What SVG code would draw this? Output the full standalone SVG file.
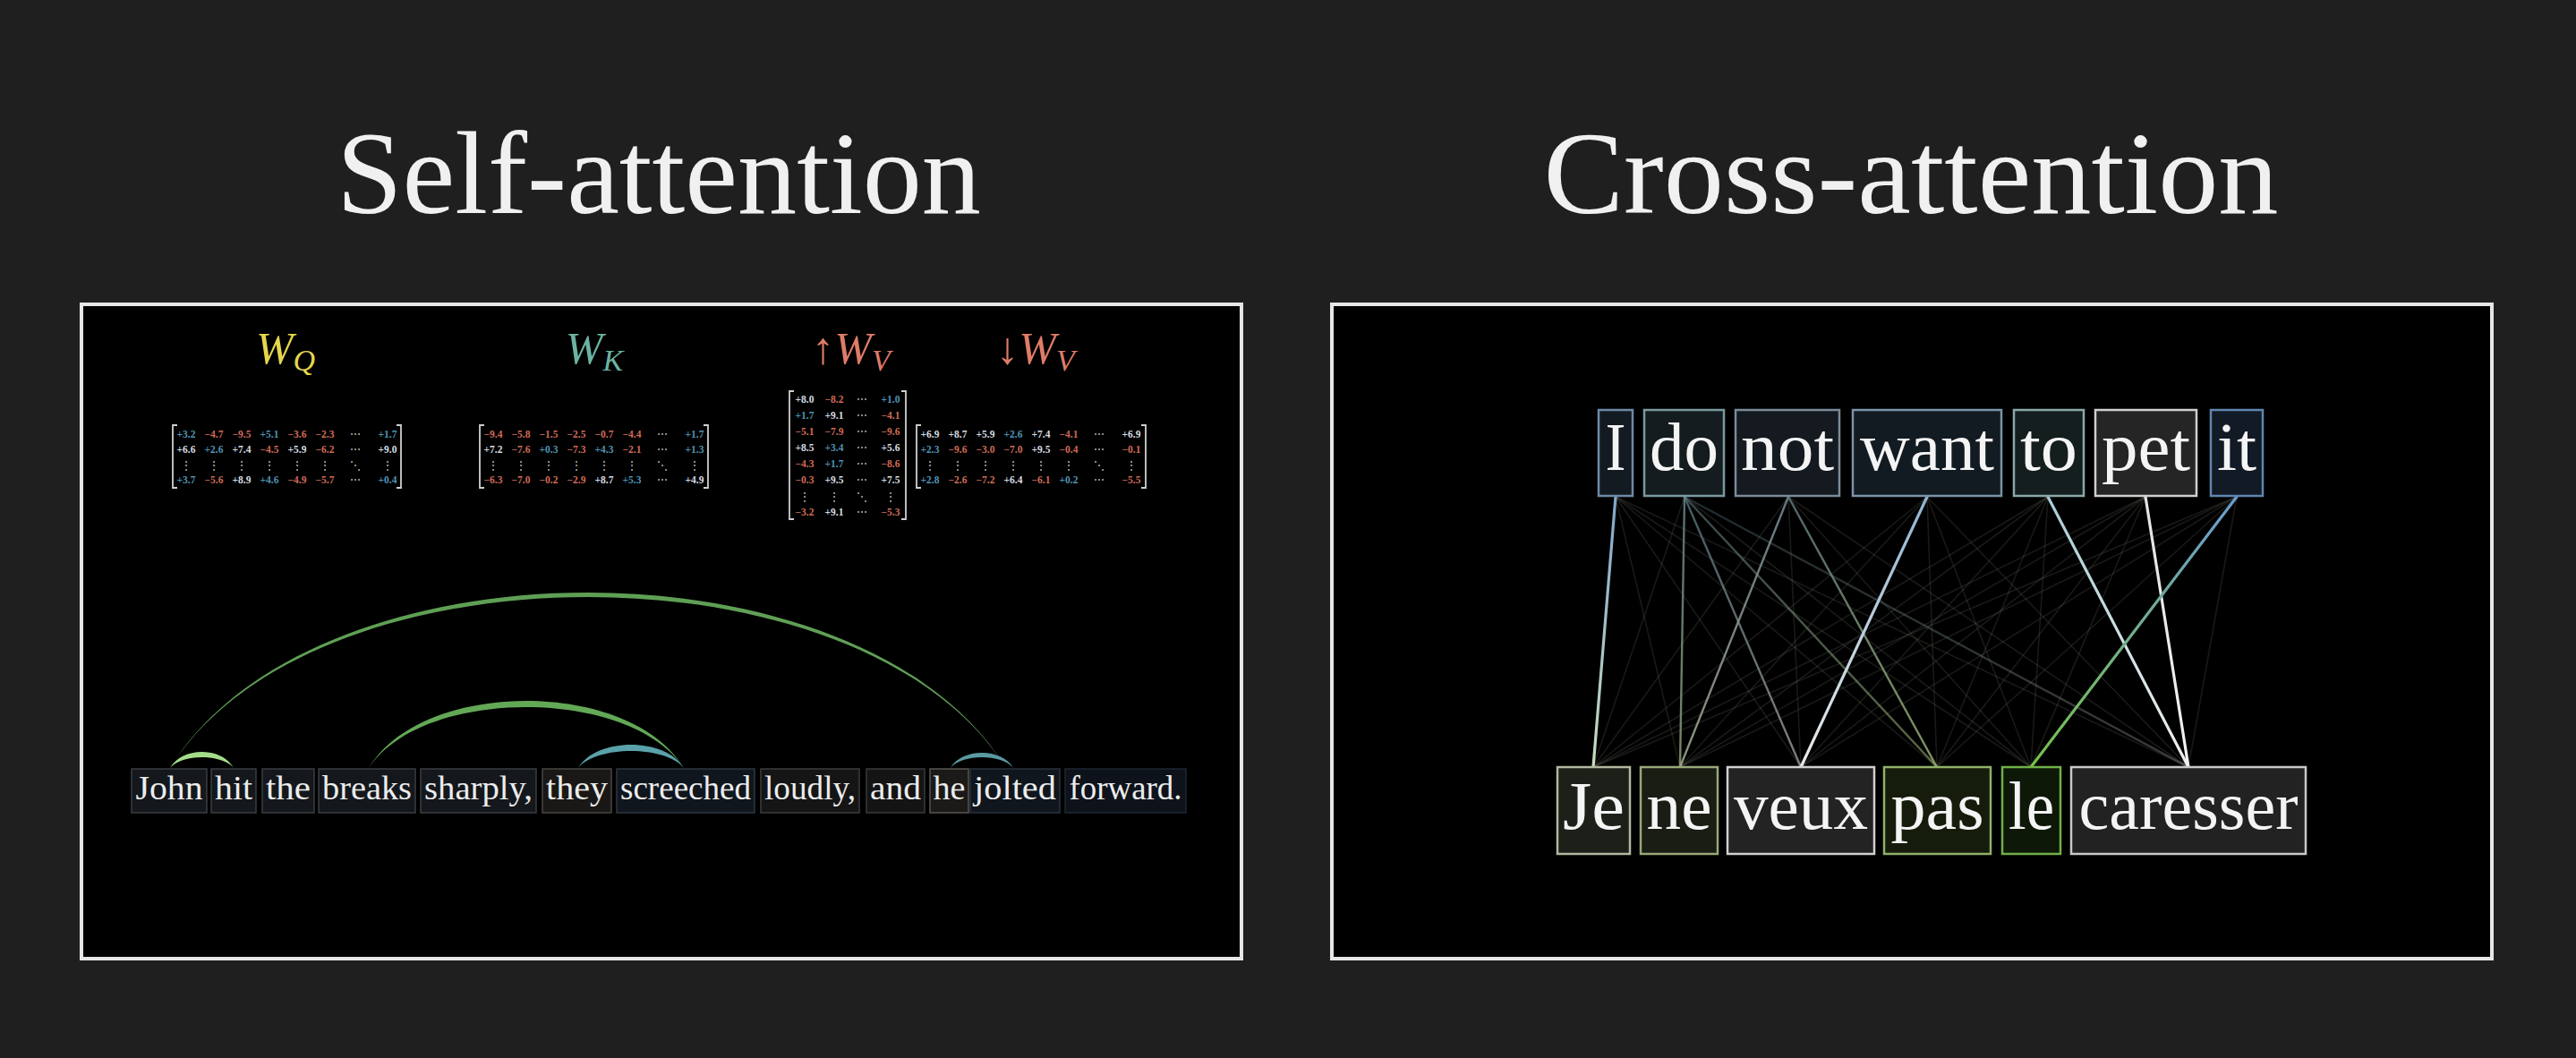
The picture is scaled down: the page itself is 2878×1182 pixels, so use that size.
<svg xmlns="http://www.w3.org/2000/svg" width="2878" height="1182" viewBox="0 0 2878 1182">
<defs>
<style>
.title{font-family:"Liberation Serif","DejaVu Serif",serif;font-size:132px;fill:#f0f0f0;text-anchor:middle}
.panel{fill:#000;stroke:#e6e6e6;stroke-width:4}
.wlab{font-family:"Liberation Serif","DejaVu Serif",serif;font-size:50px;font-style:italic;text-anchor:middle}
.n{font-family:"Liberation Serif","DejaVu Serif",serif;font-size:11.5px;font-weight:bold;text-anchor:middle}
.b{fill:#4f93b3}.r{fill:#cf6b57}.w{fill:#d5dde2}.d{fill:#c8c8c8;font-weight:normal}
.br{fill:none;stroke:#cfcfcf;stroke-width:1.8}
.wl{font-family:"Liberation Serif","DejaVu Serif",serif;font-size:38px;fill:#ececec;text-anchor:middle}
.wr{font-family:"Liberation Serif","DejaVu Serif",serif;font-size:76px;fill:#f4f4f4;text-anchor:middle}
.lb{stroke-width:1.5}
.rb{stroke-width:2.5}
.faint{stroke:#7c8272;stroke-opacity:0.2;stroke-width:1.6;fill:none}
.strong{stroke-width:3.2;fill:none;stroke-linecap:round}
.med{stroke-width:2.4;fill:none}
</style>
<linearGradient id="gIJe" gradientUnits="userSpaceOnUse" x1="0" y1="555" x2="0" y2="857"><stop offset="0" stop-color="#7fa6cc"/><stop offset="1" stop-color="#c8dcc0"/></linearGradient>
<linearGradient id="gWant" gradientUnits="userSpaceOnUse" x1="0" y1="555" x2="0" y2="857"><stop offset="0" stop-color="#8fb4d0"/><stop offset="1" stop-color="#eaeaea"/></linearGradient>
<linearGradient id="gTo" gradientUnits="userSpaceOnUse" x1="0" y1="555" x2="0" y2="857"><stop offset="0" stop-color="#a8ccd4"/><stop offset="1" stop-color="#f0f0f0"/></linearGradient>
<linearGradient id="gPet" gradientUnits="userSpaceOnUse" x1="0" y1="555" x2="0" y2="857"><stop offset="0" stop-color="#e4e4e4"/><stop offset="1" stop-color="#f2f2f2"/></linearGradient>
<linearGradient id="gIt" gradientUnits="userSpaceOnUse" x1="0" y1="555" x2="0" y2="857"><stop offset="0" stop-color="#6a9cd0"/><stop offset="1" stop-color="#78c048"/></linearGradient>
<linearGradient id="gM1" gradientUnits="userSpaceOnUse" x1="0" y1="555" x2="0" y2="857"><stop offset="0" stop-color="#6a8a8c"/><stop offset="1" stop-color="#96a67c"/></linearGradient>
<linearGradient id="gM2" gradientUnits="userSpaceOnUse" x1="0" y1="555" x2="0" y2="857"><stop offset="0" stop-color="#7a8a98"/><stop offset="1" stop-color="#a4ac94"/></linearGradient>
<linearGradient id="gM3" gradientUnits="userSpaceOnUse" x1="0" y1="555" x2="0" y2="857"><stop offset="0" stop-color="#5e7880"/><stop offset="1" stop-color="#9ab070"/></linearGradient>
<linearGradient id="gM4" gradientUnits="userSpaceOnUse" x1="0" y1="555" x2="0" y2="857"><stop offset="0" stop-color="#587880"/><stop offset="1" stop-color="#a8a8a8"/></linearGradient>
</defs>

<rect x="0" y="0" width="2878" height="1182" fill="#1f1f1f"/>

<text class="title" x="736" y="238" textLength="720" lengthAdjust="spacingAndGlyphs">Self-attention</text>
<text class="title" x="2135" y="238" textLength="821" lengthAdjust="spacingAndGlyphs">Cross-attention</text>

<rect id="panel-self" class="panel" x="91" y="340" width="1296" height="731"/>
<rect id="panel-cross" class="panel" x="1488" y="340" width="1296" height="731"/>

<!-- weight labels -->
<g id="label-wq"><text class="wlab" x="319" y="406" fill="#e6d64c">W<tspan font-size="34" dy="8">Q</tspan></text></g>
<g id="label-wk"><text class="wlab" x="664" y="406" fill="#6cb3a3">W<tspan font-size="34" dy="8">K</tspan></text></g>
<g id="label-wvup"><text class="wlab" x="951" y="406" fill="#df7c68"><tspan font-style="normal">↑</tspan>W<tspan font-size="34" dy="8">V</tspan></text></g>
<g id="label-wvdown"><text class="wlab" x="1157" y="406" fill="#df7c68"><tspan font-style="normal">↓</tspan>W<tspan font-size="34" dy="8">V</tspan></text></g>

<!-- W_Q matrix -->
<g id="matrix-wq" class="n">
<path class="br" d="M198 475H193V545H198M443 475H448V545H443"/>
<text y="489"><tspan x="208" class="b">+3.2</tspan><tspan x="239" class="r">−4.7</tspan><tspan x="270" class="r">−9.5</tspan><tspan x="301" class="b">+5.1</tspan><tspan x="332" class="r">−3.6</tspan><tspan x="363" class="r">−2.3</tspan><tspan x="397" class="d">⋯</tspan><tspan x="433" class="b">+1.7</tspan></text>
<text y="506"><tspan x="208" class="w">+6.6</tspan><tspan x="239" class="b">+2.6</tspan><tspan x="270" class="w">+7.4</tspan><tspan x="301" class="r">−4.5</tspan><tspan x="332" class="w">+5.9</tspan><tspan x="363" class="r">−6.2</tspan><tspan x="397" class="d">⋯</tspan><tspan x="433" class="w">+9.0</tspan></text>
<text y="524" class="d"><tspan x="208">⋮</tspan><tspan x="239">⋮</tspan><tspan x="270">⋮</tspan><tspan x="301">⋮</tspan><tspan x="332">⋮</tspan><tspan x="363">⋮</tspan><tspan x="397">⋱</tspan><tspan x="433">⋮</tspan></text>
<text y="540"><tspan x="208" class="b">+3.7</tspan><tspan x="239" class="r">−5.6</tspan><tspan x="270" class="w">+8.9</tspan><tspan x="301" class="b">+4.6</tspan><tspan x="332" class="r">−4.9</tspan><tspan x="363" class="r">−5.7</tspan><tspan x="397" class="d">⋯</tspan><tspan x="433" class="b">+0.4</tspan></text>
</g>

<!-- W_K matrix -->
<g id="matrix-wk" class="n">
<path class="br" d="M541 475H536V545H541M786 475H791V545H786"/>
<text y="489"><tspan x="551" class="r">−9.4</tspan><tspan x="582" class="r">−5.8</tspan><tspan x="613" class="r">−1.5</tspan><tspan x="644" class="r">−2.5</tspan><tspan x="675" class="r">−0.7</tspan><tspan x="706" class="r">−4.4</tspan><tspan x="740" class="d">⋯</tspan><tspan x="776" class="b">+1.7</tspan></text>
<text y="506"><tspan x="551" class="w">+7.2</tspan><tspan x="582" class="r">−7.6</tspan><tspan x="613" class="b">+0.3</tspan><tspan x="644" class="r">−7.3</tspan><tspan x="675" class="b">+4.3</tspan><tspan x="706" class="r">−2.1</tspan><tspan x="740" class="d">⋯</tspan><tspan x="776" class="b">+1.3</tspan></text>
<text y="524" class="d"><tspan x="551">⋮</tspan><tspan x="582">⋮</tspan><tspan x="613">⋮</tspan><tspan x="644">⋮</tspan><tspan x="675">⋮</tspan><tspan x="706">⋮</tspan><tspan x="740">⋱</tspan><tspan x="776">⋮</tspan></text>
<text y="540"><tspan x="551" class="r">−6.3</tspan><tspan x="582" class="r">−7.0</tspan><tspan x="613" class="r">−0.2</tspan><tspan x="644" class="r">−2.9</tspan><tspan x="675" class="w">+8.7</tspan><tspan x="706" class="b">+5.3</tspan><tspan x="740" class="d">⋯</tspan><tspan x="776" class="w">+4.9</tspan></text>
</g>

<!-- up W_V matrix -->
<g id="matrix-wvup" class="n">
<path class="br" d="M887 437H882V580H887M1007 437H1012V580H1007"/>
<text y="450"><tspan x="899" class="w">+8.0</tspan><tspan x="932" class="r">−8.2</tspan><tspan x="963" class="d">⋯</tspan><tspan x="995" class="b">+1.0</tspan></text>
<text y="468"><tspan x="899" class="b">+1.7</tspan><tspan x="932" class="w">+9.1</tspan><tspan x="963" class="d">⋯</tspan><tspan x="995" class="r">−4.1</tspan></text>
<text y="486"><tspan x="899" class="r">−5.1</tspan><tspan x="932" class="r">−7.9</tspan><tspan x="963" class="d">⋯</tspan><tspan x="995" class="r">−9.6</tspan></text>
<text y="504"><tspan x="899" class="w">+8.5</tspan><tspan x="932" class="b">+3.4</tspan><tspan x="963" class="d">⋯</tspan><tspan x="995" class="w">+5.6</tspan></text>
<text y="522"><tspan x="899" class="r">−4.3</tspan><tspan x="932" class="b">+1.7</tspan><tspan x="963" class="d">⋯</tspan><tspan x="995" class="r">−8.6</tspan></text>
<text y="540"><tspan x="899" class="r">−0.3</tspan><tspan x="932" class="w">+9.5</tspan><tspan x="963" class="d">⋯</tspan><tspan x="995" class="w">+7.5</tspan></text>
<text y="559" class="d"><tspan x="899">⋮</tspan><tspan x="932">⋮</tspan><tspan x="963">⋱</tspan><tspan x="995">⋮</tspan></text>
<text y="576"><tspan x="899" class="r">−3.2</tspan><tspan x="932" class="w">+9.1</tspan><tspan x="963" class="d">⋯</tspan><tspan x="995" class="r">−5.3</tspan></text>
</g>

<!-- down W_V matrix -->
<g id="matrix-wvdown" class="n">
<path class="br" d="M1029 475H1024V545H1029M1275 475H1280V545H1275"/>
<text y="489"><tspan x="1039" class="w">+6.9</tspan><tspan x="1070" class="w">+8.7</tspan><tspan x="1101" class="w">+5.9</tspan><tspan x="1132" class="b">+2.6</tspan><tspan x="1163" class="w">+7.4</tspan><tspan x="1194" class="r">−4.1</tspan><tspan x="1228" class="d">⋯</tspan><tspan x="1264" class="w">+6.9</tspan></text>
<text y="506"><tspan x="1039" class="b">+2.3</tspan><tspan x="1070" class="r">−9.6</tspan><tspan x="1101" class="r">−3.0</tspan><tspan x="1132" class="r">−7.0</tspan><tspan x="1163" class="w">+9.5</tspan><tspan x="1194" class="r">−0.4</tspan><tspan x="1228" class="d">⋯</tspan><tspan x="1264" class="r">−0.1</tspan></text>
<text y="524" class="d"><tspan x="1039">⋮</tspan><tspan x="1070">⋮</tspan><tspan x="1101">⋮</tspan><tspan x="1132">⋮</tspan><tspan x="1163">⋮</tspan><tspan x="1194">⋮</tspan><tspan x="1228">⋱</tspan><tspan x="1264">⋮</tspan></text>
<text y="540"><tspan x="1039" class="b">+2.8</tspan><tspan x="1070" class="r">−2.6</tspan><tspan x="1101" class="r">−7.2</tspan><tspan x="1132" class="w">+6.4</tspan><tspan x="1163" class="r">−6.1</tspan><tspan x="1194" class="b">+0.2</tspan><tspan x="1228" class="d">⋯</tspan><tspan x="1264" class="r">−5.5</tspan></text>
</g>

<!-- self-attention arcs -->
<g id="arcs-self">
<path d="M190 858C350 596.7 964 596.7 1124 858C964 603.3 350 603.3 190 858Z" fill="#5f9f55"/>
<path d="M412 858C472 758 704 758 764 858C704 767.3 472 767.3 412 858Z" fill="#62a856"/>
<path d="M190 858C203 834 248 834 261 858C248 842 203 842 190 858Z" fill="#a4dc8a"/>
<path d="M646 858C666 823.3 744 823.3 764 858C744 832.7 666 832.7 646 858Z" fill="#5aa2ab"/>
<path d="M1062 858C1074 835.3 1120 835.3 1132 858C1120 842 1074 842 1062 858Z" fill="#5a9aa2"/>
</g>

<!-- sentence tokens -->
<g id="tok-john"><rect class="lb" x="147" y="859" width="84" height="49" fill="#14181c" stroke="#3a3e42"/><text class="wl" x="189" y="893" textLength="75" lengthAdjust="spacingAndGlyphs">John</text></g>
<g id="tok-hit"><rect class="lb" x="236" y="859" width="50" height="49" fill="#14181c" stroke="#3a3e42"/><text class="wl" x="261" y="893" textLength="42" lengthAdjust="spacingAndGlyphs">hit</text></g>
<g id="tok-the"><rect class="lb" x="293" y="859" width="58" height="49" fill="#14181c" stroke="#3a3e42"/><text class="wl" x="322" y="893" textLength="50" lengthAdjust="spacingAndGlyphs">the</text></g>
<g id="tok-breaks"><rect class="lb" x="356" y="859" width="108" height="49" fill="#14181c" stroke="#3a3e42"/><text class="wl" x="410" y="893" textLength="100" lengthAdjust="spacingAndGlyphs">breaks</text></g>
<g id="tok-sharply"><rect class="lb" x="470" y="859" width="129" height="49" fill="#14181c" stroke="#3a3e42"/><text class="wl" x="534.5" y="893" textLength="121" lengthAdjust="spacingAndGlyphs">sharply,</text></g>
<g id="tok-they"><rect class="lb" x="606" y="859" width="77" height="49" fill="#1a1816" stroke="#4a4642"/><text class="wl" x="644.5" y="893" textLength="69" lengthAdjust="spacingAndGlyphs">they</text></g>
<g id="tok-screeched"><rect class="lb" x="689" y="859" width="154" height="49" fill="#10161d" stroke="#2e3740"/><text class="wl" x="766" y="893" textLength="146" lengthAdjust="spacingAndGlyphs">screeched</text></g>
<g id="tok-loudly"><rect class="lb" x="850" y="859" width="110" height="49" fill="#151515" stroke="#3c3c3c"/><text class="wl" x="905" y="893" textLength="102" lengthAdjust="spacingAndGlyphs">loudly,</text></g>
<g id="tok-and"><rect class="lb" x="968" y="859" width="65" height="49" fill="#141414" stroke="#3a3a3a"/><text class="wl" x="1000.5" y="893" textLength="57" lengthAdjust="spacingAndGlyphs">and</text></g>
<g id="tok-he"><rect class="lb" x="1039" y="859" width="43" height="49" fill="#1c1a18" stroke="#5a5550"/><text class="wl" x="1060.5" y="893" textLength="36" lengthAdjust="spacingAndGlyphs">he</text></g>
<g id="tok-jolted"><rect class="lb" x="1084" y="859" width="100" height="49" fill="#10161d" stroke="#2a333c"/><text class="wl" x="1134" y="893" textLength="92" lengthAdjust="spacingAndGlyphs">jolted</text></g>
<g id="tok-forward"><rect class="lb" x="1190" y="859" width="135" height="49" fill="#0e131b" stroke="#1e2733"/><text class="wl" x="1257.5" y="893" textLength="126" lengthAdjust="spacingAndGlyphs">forward.</text></g>

<!-- cross-attention connectors -->
<g id="connectors">
<line class="faint" x1="1805" y1="555" x2="1877" y2="857"/>
<line class="faint" x1="1805" y1="555" x2="2012" y2="857"/>
<line class="faint" x1="1805" y1="555" x2="2164" y2="857"/>
<line class="faint" x1="1805" y1="555" x2="2269" y2="857"/>
<line class="faint" x1="1805" y1="555" x2="2445" y2="857"/>
<line class="faint" x1="1882" y1="555" x2="1780" y2="857"/>
<line class="faint" x1="1882" y1="555" x2="2269" y2="857"/>
<line class="faint" x1="1998" y1="555" x2="1780" y2="857"/>
<line class="faint" x1="1998" y1="555" x2="2012" y2="857"/>
<line class="faint" x1="1998" y1="555" x2="2269" y2="857"/>
<line class="faint" x1="1998" y1="555" x2="2445" y2="857"/>
<line class="faint" x1="2153" y1="555" x2="1780" y2="857"/>
<line class="faint" x1="2153" y1="555" x2="1877" y2="857"/>
<line class="faint" x1="2153" y1="555" x2="2164" y2="857"/>
<line class="faint" x1="2153" y1="555" x2="2269" y2="857"/>
<line class="faint" x1="2153" y1="555" x2="2445" y2="857"/>
<line class="faint" x1="2288" y1="555" x2="1780" y2="857"/>
<line class="faint" x1="2288" y1="555" x2="1877" y2="857"/>
<line class="faint" x1="2288" y1="555" x2="2012" y2="857"/>
<line class="faint" x1="2288" y1="555" x2="2164" y2="857"/>
<line class="faint" x1="2288" y1="555" x2="2269" y2="857"/>
<line class="faint" x1="2397" y1="555" x2="1780" y2="857"/>
<line class="faint" x1="2397" y1="555" x2="1877" y2="857"/>
<line class="faint" x1="2397" y1="555" x2="2012" y2="857"/>
<line class="faint" x1="2397" y1="555" x2="2164" y2="857"/>
<line class="faint" x1="2397" y1="555" x2="2269" y2="857"/>
<line class="faint" x1="2499" y1="555" x2="1780" y2="857"/>
<line class="faint" x1="2499" y1="555" x2="1877" y2="857"/>
<line class="faint" x1="2499" y1="555" x2="2012" y2="857"/>
<line class="faint" x1="2499" y1="555" x2="2164" y2="857"/>
<line class="faint" x1="2499" y1="555" x2="2445" y2="857"/>
<line class="med" x1="1882" y1="555" x2="2445" y2="857" stroke="url(#gM4)" stroke-opacity="0.35"/>
<line class="med" x1="1882" y1="555" x2="2164" y2="857" stroke="url(#gM3)" stroke-opacity="0.6"/>
<line class="med" x1="1882" y1="555" x2="2012" y2="857" stroke="url(#gM4)" stroke-opacity="0.75"/>
<line class="med" x1="1882" y1="555" x2="1877" y2="857" stroke="url(#gM1)" stroke-opacity="0.8"/>
<line class="med" x1="1998" y1="555" x2="1877" y2="857" stroke="url(#gM2)" stroke-opacity="0.85"/>
<line class="med" x1="1998" y1="555" x2="2164" y2="857" stroke="url(#gM3)" stroke-opacity="0.85"/>
<line class="strong" x1="1805" y1="555" x2="1780" y2="857" stroke="url(#gIJe)"/>
<line class="strong" x1="2153" y1="555" x2="2012" y2="857" stroke="url(#gWant)"/>
<line class="strong" x1="2288" y1="555" x2="2445" y2="857" stroke="url(#gTo)"/>
<line class="strong" x1="2397" y1="555" x2="2445" y2="857" stroke="url(#gPet)"/>
<line class="strong" x1="2499" y1="555" x2="2269" y2="857" stroke="url(#gIt)"/>
</g>

<!-- English tokens -->
<g id="en-I"><rect class="rb" x="1786" y="458" width="38" height="96" fill="#131a22" stroke="#6e8aa6"/><text class="wr" x="1805" y="525" textLength="23" lengthAdjust="spacingAndGlyphs">I</text></g>
<g id="en-do"><rect class="rb" x="1837" y="458" width="89" height="96" fill="#141c1f" stroke="#7a9aa0"/><text class="wr" x="1881.5" y="525" textLength="77" lengthAdjust="spacingAndGlyphs">do</text></g>
<g id="en-not"><rect class="rb" x="1939" y="458" width="116" height="96" fill="#141a20" stroke="#7a8a98"/><text class="wr" x="1997" y="525" textLength="104" lengthAdjust="spacingAndGlyphs">not</text></g>
<g id="en-want"><rect class="rb" x="2070" y="458" width="166" height="96" fill="#121a22" stroke="#7a94a8"/><text class="wr" x="2153" y="525" textLength="150" lengthAdjust="spacingAndGlyphs">want</text></g>
<g id="en-to"><rect class="rb" x="2250" y="458" width="78" height="96" fill="#141e1e" stroke="#8aa8a8"/><text class="wr" x="2289" y="525" textLength="64" lengthAdjust="spacingAndGlyphs">to</text></g>
<g id="en-pet"><rect class="rb" x="2341" y="458" width="113" height="96" fill="#252525" stroke="#d0d0d0"/><text class="wr" x="2397.5" y="525" textLength="99" lengthAdjust="spacingAndGlyphs">pet</text></g>
<g id="en-it"><rect class="rb" x="2470" y="458" width="58" height="96" fill="#121a26" stroke="#5f86b0"/><text class="wr" x="2499" y="525" textLength="44" lengthAdjust="spacingAndGlyphs">it</text></g>

<!-- French tokens -->
<g id="fr-Je"><rect class="rb" x="1740" y="857" width="81" height="97" fill="#1c2019" stroke="#b0b8a0"/><text class="wr" x="1780.5" y="926" textLength="69" lengthAdjust="spacingAndGlyphs">Je</text></g>
<g id="fr-ne"><rect class="rb" x="1833" y="857" width="86" height="97" fill="#1a1d14" stroke="#98a878"/><text class="wr" x="1876" y="926" textLength="73" lengthAdjust="spacingAndGlyphs">ne</text></g>
<g id="fr-veux"><rect class="rb" x="1930" y="857" width="164" height="97" fill="#232323" stroke="#d0d0d0"/><text class="wr" x="2012" y="926" textLength="150" lengthAdjust="spacingAndGlyphs">veux</text></g>
<g id="fr-pas"><rect class="rb" x="2105" y="857" width="119" height="97" fill="#161c0c" stroke="#90b068"/><text class="wr" x="2164.5" y="926" textLength="104" lengthAdjust="spacingAndGlyphs">pas</text></g>
<g id="fr-le"><rect class="rb" x="2237" y="857" width="65" height="97" fill="#0e1808" stroke="#70b048"/><text class="wr" x="2269.5" y="926" textLength="51" lengthAdjust="spacingAndGlyphs">le</text></g>
<g id="fr-caresser"><rect class="rb" x="2314" y="857" width="262" height="97" fill="#222222" stroke="#c8c8c8"/><text class="wr" x="2445" y="926" textLength="245" lengthAdjust="spacingAndGlyphs">caresser</text></g>
</svg>
